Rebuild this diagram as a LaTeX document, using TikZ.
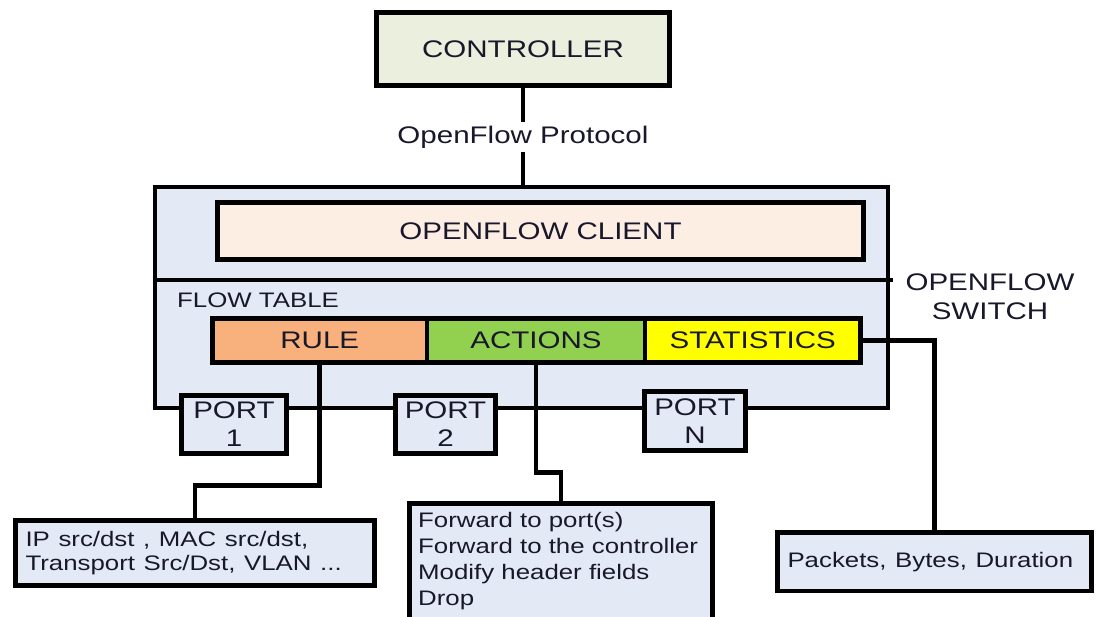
\documentclass[tikz,border=0pt]{standalone}
\usepackage{fontspec}
\setmainfont{Liberation Sans}
\usepackage{graphicx}
\definecolor{ink}{HTML}{18182A}
\definecolor{swfill}{HTML}{E4EAF5}
\definecolor{ctrlfill}{HTML}{EBEFDD}
\definecolor{clientfill}{HTML}{FDEEE3}
\definecolor{rulefill}{HTML}{F8B07C}
\definecolor{actfill}{HTML}{92D050}
\definecolor{statfill}{HTML}{FFFF00}
% widened lettering used throughout the figure
\newcommand\wide[1]{\scalebox{1.23}[1]{#1}}
\begin{document}
\begin{tikzpicture}[x=1pt,y=-1pt,
  box/.style={draw=black, line width=4.5pt, rectangle, inner sep=0pt,
    text=ink, font=\fontsize{24}{28}\selectfont, align=center},
  descbox/.style={box, fill=swfill, font=\fontsize{21}{24}\selectfont, align=left},
  wire/.style={draw=black, line width=4.8pt},
  lbl/.style={inner sep=0pt, text=ink, font=\fontsize{24}{29}\selectfont, align=center}]
\useasboundingbox (0,0) rectangle (1096,617);
\clip (0,0) rectangle (1096,617);

% controller
\node[box, fill=ctrlfill, minimum width=293, minimum height=73] (ctrl) at (523,49) {\wide{CONTROLLER}};
\node[lbl, minimum height=30] (proto) at (523,137) {\wide{OpenFlow Protocol}};

% switch body
\node[draw=black, line width=4pt, fill=swfill, rectangle, inner sep=0pt,
      minimum width=733, minimum height=221] (switch) at (521.5,297.5) {};
\draw[line width=3.5pt] (switch.west |- 0,280) -- ++(740,0);
\node[box, fill=clientfill, minimum width=646, minimum height=57] (client) at (540.5,231) {\wide{OPENFLOW CLIENT}};
\node[lbl, font=\fontsize{21}{24}\selectfont, anchor=west] (ftable) at (177,300) {\wide{FLOW TABLE}};
\node[lbl] (swlabel) at (990,297) {\wide{OPENFLOW}\\\wide{SWITCH}};

% flow table entries
\node[box, fill=rulefill, minimum width=214.5, minimum height=44] (rule) at (319.75,340.5) {\wide{RULE}};
\node[box, fill=actfill, minimum width=218, minimum height=44] (actions) at (536,340.5) {\wide{ACTIONS}};
\node[box, fill=statfill, minimum width=215.5, minimum height=44] (stats) at (752.75,340.5) {\wide{STATISTICS}};

% ports on the lower edge
\node[box, fill=swfill, minimum width=105, minimum height=58] (port1) at (234,424.5) {\wide{PORT}\\\wide{1}};
\node[box, fill=swfill, minimum width=100, minimum height=58] (port2) at (445.5,424.5) {\wide{PORT}\\\wide{2}};
\node[box, fill=swfill, minimum width=101, minimum height=59] (portn) at (695,421) {\wide{PORT}\\\wide{N}};

% detail boxes
\node[descbox, minimum width=359, minimum height=65, text width=339] (ruledesc) at (195,553)
  {\wide{IP src/dst , MAC src/dst,}\\\wide{Transport Src/Dst, VLAN ...}};
\node[box, fill=swfill, minimum width=303, minimum height=137] (actdesc) at (561,572) {};
\node[lbl, font=\fontsize{21}{25.7}\selectfont, align=left, anchor=north west] (acttext) at (418,512.5)
  {\wide{Forward to port(s)}\\\wide{Forward to the controller}\\\wide{Modify header fields}\\\wide{Drop}};
\node[descbox, minimum width=314, minimum height=58.5, text width=294] (pktdesc) at (934.5,561.75)
  {\wide{Packets, Bytes, Duration}};

% connectors
\draw[wire] (ctrl.south) -- (proto.north);
\draw[wire] (proto.south) -- (proto.south |- switch.north);
\draw[wire] (rule.south) -- ++(0,120.5) -| (ruledesc.north);
\draw[wire] (actions.south) -- ++(0,107.5) -| (actdesc.north);
\draw[wire] (stats.east) -| (pktdesc.north);
\end{tikzpicture}
\end{document}
